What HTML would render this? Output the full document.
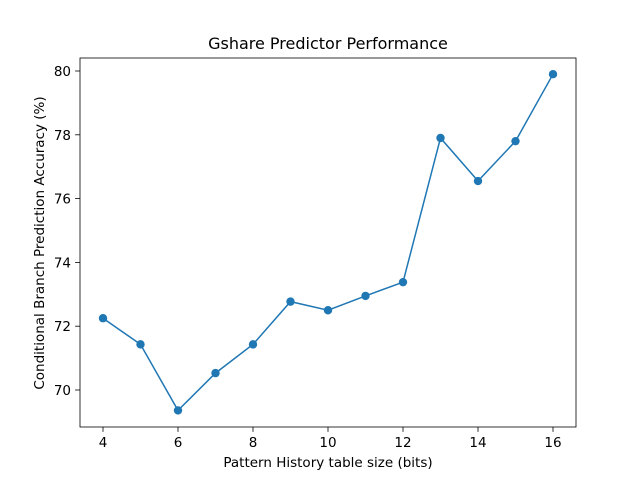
<!DOCTYPE html>
<html><head><meta charset="utf-8"><style>
body{margin:0;background:#fff;}
svg{display:block;font-family:"DejaVu Sans","Liberation Sans",sans-serif;}
</style></head><body>
<svg id="c" width="640" height="480"></svg>
<script>
const xValues=[4,5,6,7,8,9,10,11,12,13,14,15,16];
const accuracy=[72.25,71.43,69.36,70.53,71.43,72.77,72.5,72.95,73.38,77.9,76.55,77.8,79.9];
const xTicks=[4,6,8,10,12,14,16];
const yTicks=[70,72,74,76,78,80];
const NS="http://www.w3.org/2000/svg";
const svg=document.getElementById('c');
const L=80,R=576,T=58,B=427;
const sx=v=>103+(v-4)*37.5;
const sy=v=>390-(v-70)*31.9;
function mk(t,a,parent){const e=document.createElementNS(NS,t);for(const k in a)e.setAttribute(k,a[k]);(parent||svg).appendChild(e);return e;}
let frame=mk('rect',{x:L,y:T,width:R-L,height:B-T,fill:'none',stroke:'#000','stroke-width':0.8});


xTicks.forEach(v=>{
 const x=sx(v);
 let tk=mk('line',{x1:x,x2:x,y1:B,y2:B+4.9,stroke:'#000','stroke-width':0.8});
 
 
 let t=mk('text',{x:x,y:B+20,'text-anchor':'middle','font-size':13.5});
 t.textContent=v;
 
 
});
yTicks.forEach(v=>{
 const y=sy(v);
 let tk=mk('line',{x1:L-4.9,x2:L,y1:y,y2:y,stroke:'#000','stroke-width':0.8});
 
 
 let t=mk('text',{x:L-9,y:y+5,'text-anchor':'end','font-size':13.5});
 t.textContent=v;
 
 
});
let pts=xValues.map((x,i)=>sx(x)+','+sy(accuracy[i])).join(' ');
let line=mk('polyline',{points:pts,fill:'none',stroke:'#1f77b4','stroke-width':1.5});


xValues.forEach((x,i)=>{
 let c=mk('circle',{cx:sx(x),cy:sy(accuracy[i]),r:4.2,fill:'#1f77b4'});
 
 
});
let title=mk('text',{x:328,y:49,'text-anchor':'middle','font-size':16});
title.textContent='Gshare Predictor Performance';


let xl=mk('text',{x:328,y:467,'text-anchor':'middle','font-size':13.5});
xl.textContent='Pattern History table size (bits)';


let yl=mk('text',{x:0,y:0,'text-anchor':'middle','font-size':13.5,transform:'translate(44,243) rotate(-90)'});
yl.textContent='Conditional Branch Prediction Accuracy (%)';


</script>
</body></html>
